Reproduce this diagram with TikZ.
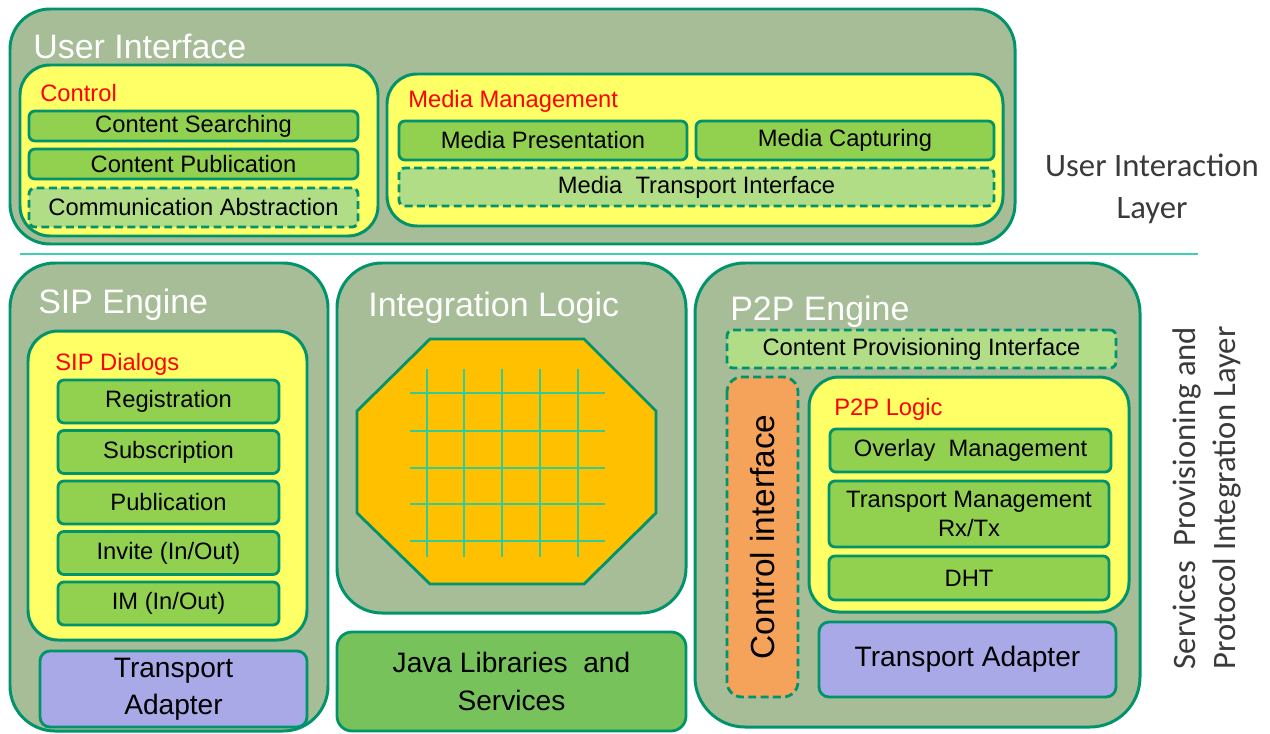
\documentclass[tikz,border=0pt]{standalone}
\usepackage{fontspec}
\setmainfont{Liberation Sans}
\newfontfamily\sidefont{Carlito}
\usetikzlibrary{positioning}
\definecolor{Edge}{HTML}{00936C}
\definecolor{Sage}{HTML}{A7BD97}
\definecolor{Lemon}{HTML}{FFFF66}
\definecolor{Leaf}{HTML}{92D050}
\definecolor{Pale}{HTML}{B0DD86}
\definecolor{Lilac}{HTML}{A9A9E8}
\definecolor{Apricot}{HTML}{F5A25A}
\definecolor{Gold}{HTML}{FFC000}
\definecolor{Java}{HTML}{77C25A}
\definecolor{Grid}{HTML}{33CC99}
\definecolor{Mint}{HTML}{40D0B0}
\definecolor{Slate}{HTML}{3A3A3A}

\begin{document}
\begin{tikzpicture}[
  every node/.style={font=\fontsize{13.5}{16}\selectfont,inner sep=0pt},
  layer/.style={draw=Edge,line width=1.7pt,fill=Sage,rounded corners=0.8cm},
  pane/.style={draw=Edge,line width=1.7pt,fill=Lemon,rounded corners=0.6cm},
  module/.style={draw=Edge,line width=1.6pt,fill=Leaf,rounded corners=0.12cm},
  iface/.style={draw=Edge,line width=1.6pt,fill=Pale,rounded corners=0.12cm,dash pattern=on 4.5pt off 2.5pt},
  adapter/.style={draw=Edge,line width=1.6pt,fill=Lilac,rounded corners=0.2cm,font=\fontsize{16}{21}\selectfont,align=center},
  title/.style={anchor=west,text=white,font=\fontsize{19.3}{22}\selectfont},
  tag/.style={anchor=west,text=red},
  side/.style={text=Slate,align=center}]
  \useasboundingbox (0,0) rectangle (25.4,-14.66);

  % user interaction layer
  \node[layer,minimum width=20.1cm,minimum height=4.7cm] (ui) at (10.25,-2.53) {};
  \node[title] (uititle) at (0.66,-0.92) {User Interface};
  \node[pane,minimum width=7.16cm,minimum height=3.42cm] (control) at (3.98,-3.01) {};
  \node[tag] (controltag) at (0.8,-1.86) {Control};
  \node[module,minimum width=6.58cm,minimum height=0.6cm] (search) at (3.87,-2.52) {Content Searching};
  \node[module,minimum width=6.58cm,minimum height=0.6cm] (publish) at (3.87,-3.28) {Content Publication};
  \node[iface,minimum width=6.58cm,minimum height=0.78cm] (commabs) at (3.87,-4.15) {Communication Abstraction};
  \node[pane,minimum width=12.32cm,minimum height=3.04cm] (media) at (13.9,-3.0) {};
  \node[tag] (mediatag) at (8.16,-2.02) {Media Management};
  \node[module,minimum width=5.76cm,minimum height=0.78cm] (present) at (10.86,-2.81) {Media Presentation};
  \node[module,minimum width=5.96cm,minimum height=0.78cm] (capture) at (16.9,-2.81) {Media Capturing};
  \node[iface,minimum width=11.9cm,minimum height=0.76cm] (mti) at (13.93,-3.74) {Media\ \ Transport Interface};
  \node[side,font=\sidefont\fontsize{18.6}{24}\selectfont] (uilayer) at (23.04,-3.78) {User Interaction\\Layer};

  \draw[Mint,line width=0.8pt] (0.4,-5.08) -- (23.96,-5.08);

  % sip engine
  \node[layer,rounded corners=0.9cm,minimum width=6.36cm,minimum height=9.36cm] (sip) at (3.38,-9.94) {};
  \node[title] (siptitle) at (0.76,-6.1) {SIP Engine};
  \node[pane,minimum width=5.58cm,minimum height=6.18cm] (dialogs) at (3.35,-9.71) {};
  \node[tag] (dialogstag) at (1.1,-7.28) {SIP Dialogs};
  \node[module,minimum width=4.42cm,minimum height=0.86cm] (reg) at (3.37,-8.03) {Registration};
  \node[module,minimum width=4.42cm,minimum height=0.86cm] (sub) at (3.37,-9.04) {Subscription};
  \node[module,minimum width=4.42cm,minimum height=0.86cm] (pub) at (3.37,-10.05) {Publication};
  \node[module,minimum width=4.42cm,minimum height=0.86cm] (invite) at (3.37,-11.06) {Invite (In/Out)};
  \node[module,minimum width=4.42cm,minimum height=0.86cm] (im) at (3.37,-12.07) {IM (In/Out)};
  \node[adapter,minimum width=5.34cm,minimum height=1.52cm] (sipta) at (3.47,-13.78) {Transport\\Adapter};

  % integration logic
  \node[layer,rounded corners=0.9cm,minimum width=6.98cm,minimum height=7.0cm] (integ) at (10.23,-8.76) {};
  \node[title] (integtitle) at (7.36,-6.16) {Integration Logic};
  \draw[Edge,line width=1.6pt,fill=Gold] (8.6,-6.78) -- (11.68,-6.78) -- (13.12,-8.22) -- (13.12,-10.26)
    -- (11.68,-11.68) -- (8.6,-11.68) -- (7.14,-10.26) -- (7.14,-8.22) -- cycle;
  \foreach \x in {8.54,9.28,10.04,10.8,11.56}
    \draw[Grid,line width=0.9pt] (\x,-7.38) -- (\x,-11.14);
  \foreach \y in {-7.86,-8.62,-9.36,-10.08,-10.82}
    \draw[Grid,line width=0.9pt] (8.2,\y) -- (12.1,\y);
  \node[module,fill=Java,rounded corners=0.3cm,minimum width=6.98cm,minimum height=1.98cm,
    font=\fontsize{16}{22}\selectfont,align=center] (java) at (10.23,-13.63) {Java Libraries\ \ and\\Services};

  % p2p engine
  \node[layer,rounded corners=1cm,minimum width=8.9cm,minimum height=9.28cm] (p2p) at (18.35,-9.9) {};
  \node[title] (p2ptitle) at (14.6,-6.24) {P2P Engine};
  \node[iface,minimum width=7.78cm,minimum height=0.76cm] (cpi) at (18.43,-6.98) {Content Provisioning Interface};
  \node[iface,fill=Apricot,rounded corners=0.3cm,rotate=90,minimum width=6.4cm,minimum height=1.42cm,
    font=\fontsize{19}{22}\selectfont] (ctrlif) at (15.25,-10.74) {Control interface};
  \node[pane,minimum width=6.4cm,minimum height=4.7cm] (p2plogic) at (19.38,-9.89) {};
  \node[tag] (p2ptag) at (16.68,-8.18) {P2P Logic};
  \node[module,minimum width=5.62cm,minimum height=0.86cm] (overlay) at (19.41,-9.01) {Overlay\ \ Management};
  \node[module,minimum width=5.6cm,minimum height=1.32cm,align=center] (tmgmt) at (19.38,-10.28) {Transport Management\\Rx/Tx};
  \node[module,minimum width=5.6cm,minimum height=0.88cm] (dht) at (19.38,-11.56) {DHT};
  \node[adapter,minimum width=5.94cm,minimum height=1.5cm] (p2pta) at (19.35,-13.19) {Transport Adapter};

  \node[side,rotate=90,font=\sidefont\fontsize{18.6}{23}\selectfont] (splayer) at (24.14,-9.96)
    {Services\ \ Provisioning and\\Protocol Integration Layer};
\end{tikzpicture}
\end{document}
